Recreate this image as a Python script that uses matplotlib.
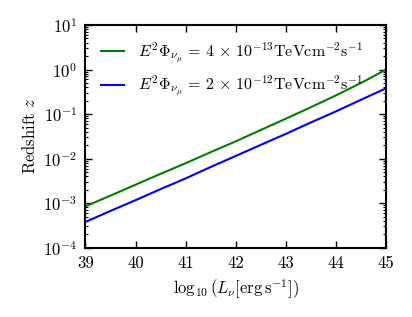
import numpy as np
import matplotlib
matplotlib.use("Agg")
import matplotlib.pyplot as plt

# Data
log_lum = [39.0, 39.5, 40.0, 40.5, 41.0, 41.5, 42.0, 42.5, 43.0, 43.5, 44.0, 44.5, 45.0]
z_low_flux = [8.5e-4, 1.48e-3, 2.6e-3, 4.57e-3, 7.9e-3, 1.40e-2, 2.45e-2,
              4.4e-2, 7.9e-2, 0.143, 0.263, 0.50, 1.0]
z_high_flux = [3.8e-4, 6.7e-4, 1.17e-3, 2.07e-3, 3.6e-3, 6.5e-3, 1.15e-2,
               2.04e-2, 3.6e-2, 6.5e-2, 0.115, 0.21, 0.38]
labels = [r'$E^2\Phi_{\nu_\mu}\,=\,4\,\times\,10^{-13}\mathrm{TeV cm}^{-2}\mathrm{s}^{-1}$',
          r'$E^2\Phi_{\nu_\mu}\,=\,2\,\times\,10^{-12}\mathrm{TeV cm}^{-2}\mathrm{s}^{-1}$']
xticks = [39, 40, 41, 42, 43, 44, 45]

plt.rcParams['mathtext.fontset'] = 'cm'
plt.rcParams['font.family'] = 'serif'
plt.rcParams['font.serif'] = ['cmr10']
plt.rcParams['axes.formatter.use_mathtext'] = True
plt.rcParams['xtick.direction'] = 'in'
plt.rcParams['ytick.direction'] = 'in'
plt.rcParams['xtick.top'] = True
plt.rcParams['ytick.right'] = True

fig = plt.figure(figsize=(4.12, 3.17), dpi=100)
ax = fig.add_axes([0.2075, 0.2186, 0.7295, 0.7024])

ax.plot(log_lum, z_low_flux, color='green', lw=1.5, label=labels[0])
ax.plot(log_lum, z_high_flux, color='blue', lw=1.5, label=labels[1])

ax.set_yscale('log')
ax.set_xlim(39, 45)
ax.set_ylim(1e-4, 1e1)
ax.set_xticks(xticks)
ax.set_xticklabels([str(t) for t in xticks])

ax.tick_params(which='major', length=5, width=1, labelsize=12, pad=6)
ax.tick_params(which='minor', length=2.5, width=0.8)
for sp in ax.spines.values():
    sp.set_linewidth(1.5)

ax.set_xlabel(r'$\log_{10}(L_\nu[\mathrm{erg\,s^{-1}}])$', fontsize=12)
ax.set_ylabel(r'Redshift $z$', fontsize=12)

ax.legend(loc='upper left', frameon=False, fontsize=11.5, handlelength=1.45,
          handletextpad=0.9, borderaxespad=0.55, labelspacing=0.5)

fig.savefig('out.png', dpi=100)
